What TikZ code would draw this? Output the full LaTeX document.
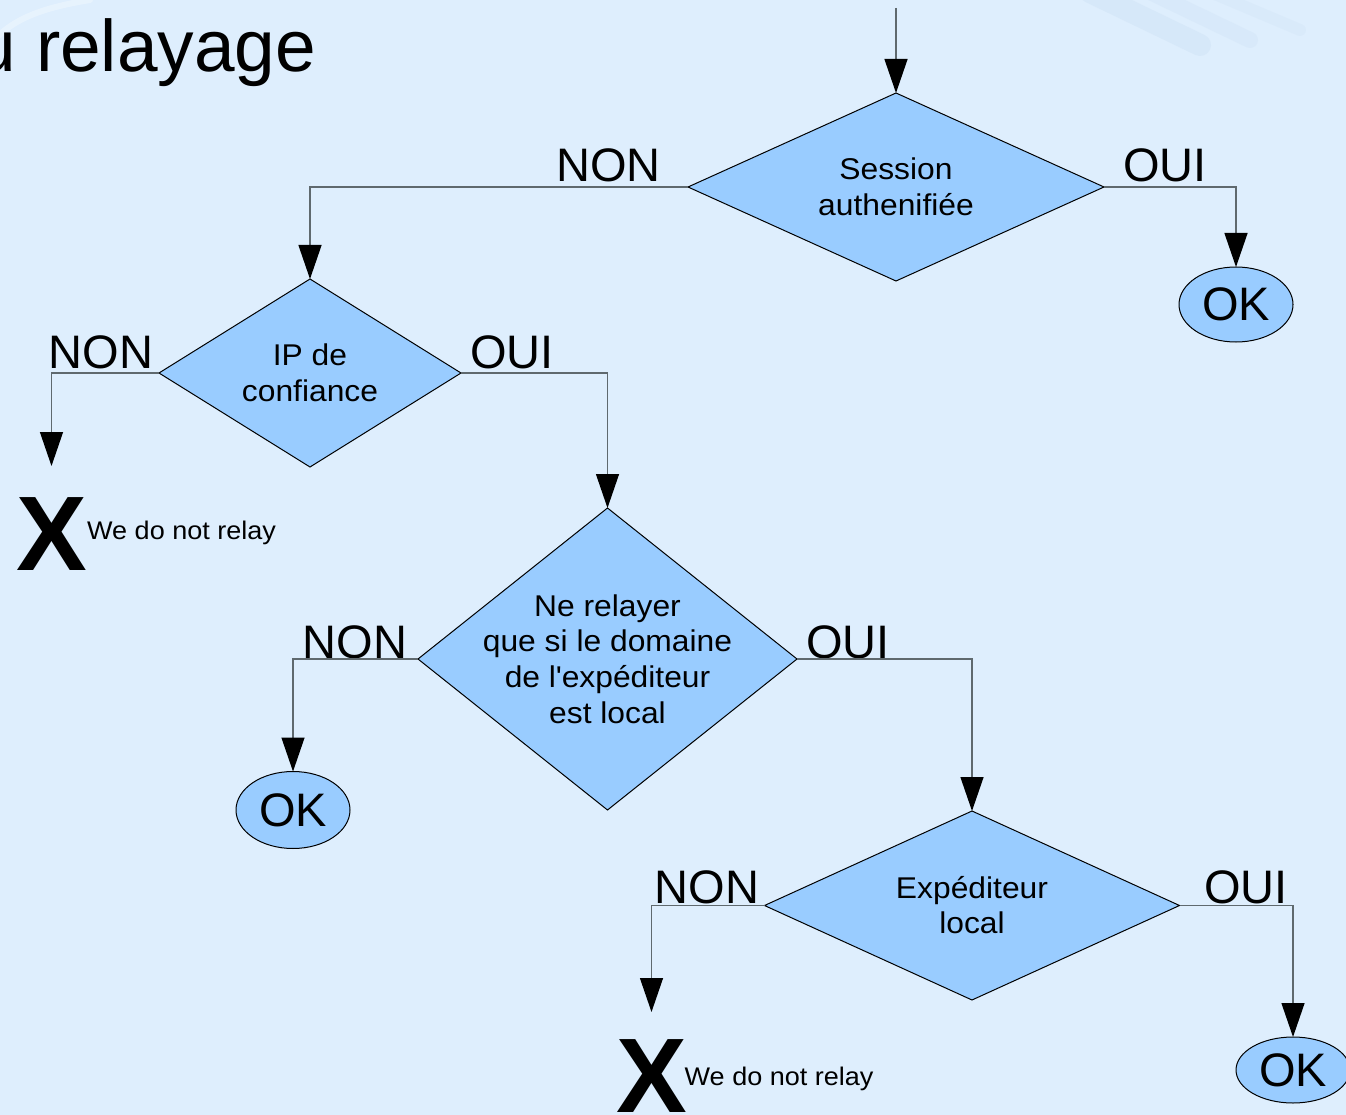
\documentclass[tikz,border=0pt]{standalone}
\usepackage{fontspec}
\setmainfont{Liberation Sans}
\newfontfamily\widefont[FakeStretch=1.06]{Liberation Sans}
\usetikzlibrary{shapes.geometric,arrows.meta}
\definecolor{bg}{RGB}{222,238,253}
\definecolor{dfill}{RGB}{153,204,255}
\definecolor{lgray}{RGB}{95,105,110}
\definecolor{streak}{RGB}{180,205,232}
\begin{document}
\begin{tikzpicture}[x=1pt,y=-1pt,
  dia/.style={shape=diamond, draw=black, fill=dfill, line width=1pt, inner sep=0pt, outer sep=0pt},
  okn/.style={shape=ellipse, draw=black, fill=dfill, line width=1pt, inner sep=0pt, outer sep=0pt, minimum width=114pt, font=\fontsize{47}{47}\selectfont},
  dtxt/.style={align=center, inner sep=0pt, font=\widefont\fontsize{30}{35.7}\selectfont},
  lbl/.style={inner sep=0pt, font=\fontsize{47}{47}\selectfont},
  bigx/.style={inner sep=0pt, font=\fontsize{106}{106}\selectfont\bfseries},
  note/.style={inner sep=0pt, anchor=base west, font=\widefont\fontsize{25.5}{30}\selectfont},
  conn/.style={draw=lgray, line width=1.3pt, -{Triangle[length=34pt,width=23pt,color=black]}},
  link/.style={draw=lgray, line width=1.3pt}
]
\useasboundingbox (0,0) rectangle (1346,1115);
\begin{scope}
\clip (0,0) rectangle (1346,1115);
\fill[bg] (0,0) rectangle (1346,1115);
% faint background streaks
\begin{scope}[line cap=round]
\draw[streak, opacity=0.18, line width=22pt] (1090,-8) -- (1200,45);
\draw[streak, opacity=0.14, line width=16pt] (1150,-8) -- (1250,40);
\draw[streak, opacity=0.10, line width=12pt] (1210,-8) -- (1300,30);
\draw[white, opacity=0.3, line width=6pt] (-10,45) .. controls (10,20) and (40,8) .. (90,0);
\end{scope}

% title
\node[inner sep=0pt, anchor=base west, font=\fontsize{73}{73}\selectfont] (title) at (-25,72) {u relayage};

% decisions
\node[dia, minimum width=416pt, minimum height=188pt] (d1) at (896,187) {};
\node[dtxt] (d1t) at (896,187) {Session\\authenifiée};

\node[dia, minimum width=302pt, minimum height=188pt] (d2) at (310,373) {};
\node[dtxt] (d2t) at (310,373) {IP de\\confiance};

\node[dia, minimum width=379pt, minimum height=302pt] (d3) at (607.5,659) {};
\node[dtxt] (d3t) at (607.5,659) {Ne relayer\\que si le domaine\\de l\textquotesingle expéditeur\\est local};

\node[dia, minimum width=415pt, minimum height=189pt] (d4) at (972,905.5) {};
\node[dtxt] (d4t) at (972,905) {Expéditeur\\local};

% terminals
\node[okn, minimum height=75pt] (ok1) at (1236,304.5) {OK};
\node[okn, minimum height=77pt] (ok2) at (293,810) {OK};
\node[okn, minimum height=66pt] (ok3) at (1293,1070) {OK};

\node[bigx] (x1) at (51.5,534.5) {X};
\node[note] (x1t) at (87,539) {We do not relay};
\node[bigx] (x2) at (651.5,1076) {X};
\node[note] (x2t) at (684.5,1085) {We do not relay};

% branch labels
\node[lbl] (n1) at (608.5,165) {NON};
\node[lbl] (o1) at (1165,165) {OUI};
\node[lbl] (n2) at (101,352) {NON};
\node[lbl] (o2) at (512,352) {OUI};
\node[lbl] (n3) at (355,642) {NON};
\node[lbl] (o3) at (848,642) {OUI};
\node[lbl] (n4) at (707,887) {NON};
\node[lbl] (o4) at (1246,887) {OUI};

% connectors
\coordinate (start) at (896,8);
\coordinate (x1tip) at (51.5,466);
\coordinate (x2tip) at (651.5,1012);
\draw[conn] (start) -- (d1.north);
\draw[conn] (d1.west) -| (d2.north);
\draw[conn] (d1.east) -| (ok1.north);
\draw[conn] (d2.west) -| (x1tip);
\draw[conn] (d2.east) -| (d3.north);
\draw[conn] (d3.west) -| (ok2.north);
\draw[conn] (d3.east) -| (d4.north);
\draw[conn] (d4.west) -| (x2tip);
\draw[conn] (d4.east) -| (ok3.north);
\end{scope}
\end{tikzpicture}
\end{document}
